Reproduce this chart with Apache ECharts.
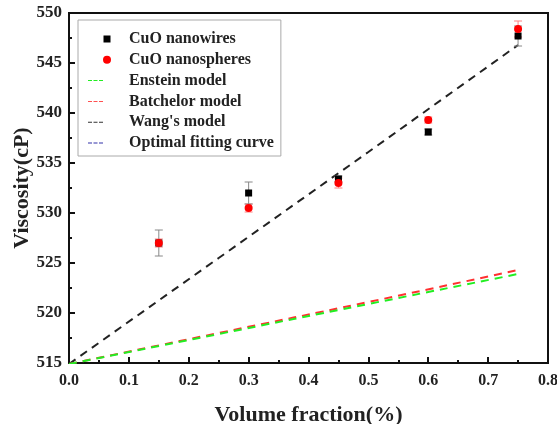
<!DOCTYPE html>
<html>
<head>
<meta charset="utf-8">
<script src="https://cdn.jsdelivr.net/npm/echarts@6/dist/echarts.min.js"></script>
<style>
  html, body { margin: 0; padding: 0; background: #fff; }
  #main { width: 557px; height: 424px; }
</style>
</head>
<body>
<div id="main"></div>
<script>
// measured points
const fractions = [0.15, 0.30, 0.45, 0.60, 0.75];
const wiresVisc = [527.0, 532.0, 533.4, 538.1, 547.7];
const wiresErr = [1.3, 1.1, 0.3, 0.3, 1.0];
const spheresVisc = [527.0, 530.5, 533.0, 539.3, 548.4];
const spheresErr = [0.4, 0.4, 0.5, 0.3, 0.8];

// model curves
const modelX = [0, 0.25, 0.5, 0.75];
const einstein = [514.9, 517.9, 520.9, 523.9];
const batchelor = [514.9, 518.0, 521.1, 524.3];
const wang = [514.9, 525.5, 536.1, 546.8];

const xTicks = ['0.0', '0.1', '0.2', '0.3', '0.4', '0.5', '0.6', '0.7', '0.8'];
const yTicks = [515, 520, 525, 530, 535, 540, 545, 550];

const font = 'Liberation Serif';
const chart = echarts.init(document.getElementById('main'));

function pairs(xs, ys) {
  return xs.map((x, i) => [x, ys[i]]);
}

// legend icons: 24x8 box, tiny corner anchors keep the box size
const anchors = 'M0,0h0.01v0.01h-0.01Z M24,8h-0.01v-0.01h0.01Z ';
const iconSquare = 'path://' + anchors + 'M15.5,0.5h7v7h-7Z';
const iconDot = 'path://' + anchors + 'M15,4a4,4 0 1,0 8,0a4,4 0 1,0 -8,0Z';
const iconDash = 'path://' + anchors + 'M0,3.5h4v1h-4Z M5.5,3.5h4v1h-4Z M11,3.5h4v1h-4Z';

// error bar renderer
function errBars(color) {
  return function (params, api) {
    const x = api.value(0);
    const top = api.coord([x, api.value(1)]);
    const bot = api.coord([x, api.value(2)]);
    const style = { stroke: color, lineWidth: 1 };
    return {
      type: 'group',
      children: [
        { type: 'line', shape: { x1: top[0], y1: top[1], x2: bot[0], y2: bot[1] }, style: style },
        { type: 'line', shape: { x1: top[0] - 4, y1: top[1], x2: top[0] + 4, y2: top[1] }, style: style },
        { type: 'line', shape: { x1: bot[0] - 4, y1: bot[1], x2: bot[0] + 4, y2: bot[1] }, style: style }
      ]
    };
  };
}

const dashed = (color) => ({ color: color, width: 2, type: [8, 6] });

const option = {
  animation: false,
  backgroundColor: '#fff',
  grid: {
    left: 69, right: 9, top: 13, bottom: 61,
    outerBoundsMode: 'none',
    containLabel: false,
    show: true, borderColor: '#111', borderWidth: 2
  },
  legend: {
    orient: 'vertical',
    left: 78, top: 20,
    padding: [10, 7, 4, 10],
    backgroundColor: '#fff',
    borderColor: '#aaa',
    borderWidth: 1,
    itemWidth: 24,
    itemHeight: 8,
    itemGap: 2.8,
    textStyle: { fontFamily: font, fontWeight: 'bold', fontSize: 16, lineHeight: 18, color: '#222', padding: [0, 0, 0, 12] },
    data: [
      { name: 'CuO nanowires', icon: iconSquare, itemStyle: { color: '#000' } },
      { name: 'CuO nanospheres', icon: iconDot, itemStyle: { color: '#ff0000' } },
      { name: 'Enstein model', icon: iconDash, itemStyle: { color: '#22ee22' } },
      { name: 'Batchelor model', icon: iconDash, itemStyle: { color: '#ff5050' } },
      { name: "Wang's model", icon: iconDash, itemStyle: { color: '#333' } },
      { name: 'Optimal fitting curve', icon: iconDash, itemStyle: { color: '#3333aa' } }
    ]
  },
  xAxis: {
    type: 'value',
    min: 0, max: 0.8, interval: 0.1,
    name: 'Volume fraction(%)',
    nameLocation: 'middle',
    nameGap: 41,
    nameMoveOverlap: false,
    nameTextStyle: { fontFamily: font, fontWeight: 'bold', fontSize: 22, color: '#222' },
    axisLine: { lineStyle: { color: '#111', width: 2 } },
    axisTick: { inside: true, length: 6, lineStyle: { color: '#111', width: 2 } },
    minorTick: { show: true, splitNumber: 2, length: 3, lineStyle: { color: '#111', width: 2 } },
    axisLabel: {
      fontFamily: font, fontWeight: 'bold', fontSize: 16, color: '#222', margin: 10,
      formatter: (v) => xTicks[Math.round(v * 10)]
    },
    splitLine: { show: false }
  },
  yAxis: {
    type: 'value',
    min: 515, max: 550, interval: 5,
    name: 'Viscosity(cP)',
    nameLocation: 'middle',
    nameGap: 36,
    nameMoveOverlap: false,
    nameTextStyle: { fontFamily: font, fontWeight: 'bold', fontSize: 22, color: '#222' },
    axisLine: { lineStyle: { color: '#111', width: 2 } },
    axisTick: { inside: true, length: 6, lineStyle: { color: '#111', width: 2 } },
    minorTick: { show: true, splitNumber: 2, length: 3, lineStyle: { color: '#111', width: 2 } },
    axisLabel: {
      fontFamily: font, fontWeight: 'bold', fontSize: 17, color: '#222', margin: 7,
      formatter: (v) => yTicks.includes(v) ? String(v) : ''
    },
    splitLine: { show: false }
  },
  series: [
    {
      name: "Wang's model", type: 'line', data: pairs(modelX, wang),
      symbol: 'none', lineStyle: dashed('#222'), itemStyle: { color: '#222' }, z: 2
    },
    {
      name: 'Batchelor model', type: 'line', data: pairs(modelX, batchelor), smooth: true,
      symbol: 'none', lineStyle: dashed('#ff3030'), itemStyle: { color: '#ff3030' }, z: 2
    },
    {
      name: 'Enstein model', type: 'line', data: pairs(modelX, einstein), smooth: true,
      symbol: 'none', lineStyle: dashed('#22ee22'), itemStyle: { color: '#22ee22' }, z: 2
    },
    {
      name: 'Optimal fitting curve', type: 'line', data: [],
      symbol: 'none', lineStyle: dashed('#3333aa'), itemStyle: { color: '#3333aa' }, z: 2
    },
    {
      type: 'custom', z: 3,
      renderItem: errBars('#ff8080'),
      data: fractions.map((x, i) => [x, spheresVisc[i] + spheresErr[i], spheresVisc[i] - spheresErr[i]])
    },
    {
      type: 'custom', z: 3,
      renderItem: errBars('#888'),
      data: fractions.map((x, i) => [x, wiresVisc[i] + wiresErr[i], wiresVisc[i] - wiresErr[i]])
    },
    {
      name: 'CuO nanowires', type: 'scatter', data: pairs(fractions, wiresVisc),
      symbol: 'rect', symbolSize: 7, itemStyle: { color: '#000', opacity: 1 }, z: 4
    },
    {
      name: 'CuO nanospheres', type: 'scatter', data: pairs(fractions, spheresVisc),
      symbol: 'circle', symbolSize: 8, itemStyle: { color: '#ff0000', opacity: 1 }, z: 5
    }
  ]
};

chart.setOption(option);
</script>
</body>
</html>
